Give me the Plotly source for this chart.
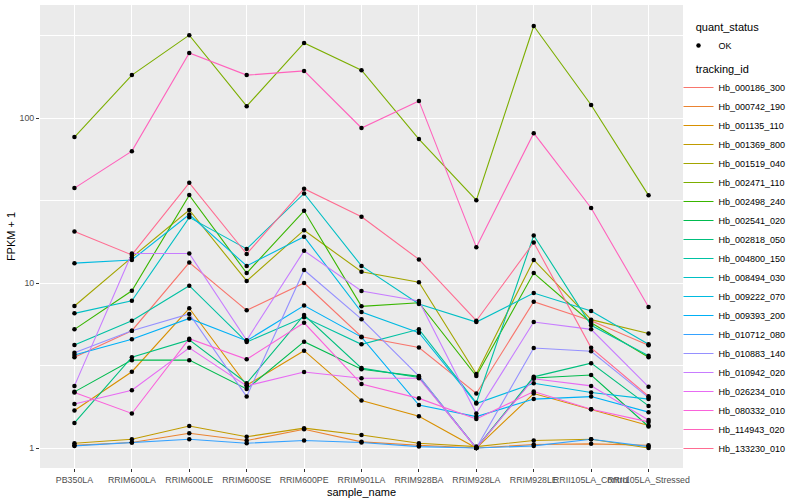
import plotly.graph_objects as go

samples = ["PB350LA", "RRIM600LA", "RRIM600LE", "RRIM600SE", "RRIM600PE", "RRIM901LA",
           "RRIM928BA", "RRIM928LA", "RRIM928LE", "RRII105LA_Control", "RRII105LA_Stressed"]

tracking_ids = ["Hb_000186_300", "Hb_000742_190", "Hb_001135_110", "Hb_001369_800", "Hb_001519_040",
                "Hb_002471_110", "Hb_002498_240", "Hb_002541_020", "Hb_002818_050", "Hb_004800_150",
                "Hb_008494_030", "Hb_009222_070", "Hb_009393_200", "Hb_010712_080", "Hb_010883_140",
                "Hb_010942_020", "Hb_026234_010", "Hb_080332_010", "Hb_114943_020", "Hb_133230_010"]

colors = ["#F8766D", "#EA8331", "#D89000", "#C09B00", "#A3A500", "#7CAE00", "#39B600", "#00BB4E",
          "#00BF7D", "#00C1A3", "#00BFC4", "#00BAE0", "#00B0F6", "#35A2FF", "#9590FF", "#C77CFF",
          "#E76BF3", "#FA62DB", "#FF62BC", "#FF6C91"]

# FPKM + 1 values per tracking_id (one per sample)
Hb_000186_300 = [3.55, 5.14, 13.3, 6.83, 10.0, 4.73, 4.07, 2.14, 7.7, 5.9, 4.2]
Hb_000742_190 = [1.04, 1.08, 1.23, 1.11, 1.30, 1.09, 1.04, 1.0, 1.05, 1.06, 1.04]
Hb_001135_110 = [1.69, 2.9, 7.03, 2.4, 3.89, 1.94, 1.56, 1.0, 2.14, 1.72, 1.37]
Hb_001369_800 = [1.07, 1.13, 1.36, 1.17, 1.32, 1.2, 1.07, 1.02, 1.11, 1.13, 1.0]
Hb_001519_040 = [7.26, 14.3, 27.7, 10.3, 20.9, 11.7, 10.1, 2.81, 13.8, 6.0, 4.95]
Hb_002471_110 = [76.7, 182, 318, 118, 285, 195, 74.6, 31.8, 361, 120, 34]
Hb_002498_240 = [5.24, 8.98, 34.1, 11.5, 27.4, 7.22, 7.6, 2.73, 11.5, 5.75, 3.55]
Hb_002541_020 = [2.19, 3.41, 3.41, 2.28, 4.41, 3.0, 2.72, 1.0, 2.66, 2.77, 1.35]
Hb_002818_050 = [1.42, 3.55, 4.52, 2.47, 6.4, 3.05, 2.68, 1.0, 2.7, 3.27, 1.8]
Hb_004800_150 = [4.21, 5.91, 9.63, 4.39, 6.2, 4.25, 5.24, 1.88, 19.4, 5.55, 3.62]
Hb_008494_030 = [6.55, 7.81, 25.0, 16.1, 34.9, 12.7, 7.46, 5.8, 8.7, 6.76, 4.25]
Hb_009222_070 = [13.2, 13.8, 26.0, 12.7, 19.1, 6.67, 5.0, 1.86, 2.47, 2.17, 1.98]
Hb_009393_200 = [3.66, 4.56, 6.1, 4.47, 7.3, 4.7, 1.82, 1.55, 1.98, 2.05, 1.65]
Hb_010712_080 = [1.03, 1.08, 1.13, 1.07, 1.11, 1.08, 1.02, 1.0, 1.03, 1.13, 1.02]
Hb_010883_140 = [3.78, 5.14, 6.49, 2.05, 12.0, 6.04, 2.73, 1.0, 4.04, 3.86, 2.02]
Hb_010942_020 = [2.38, 15.1, 15.1, 4.5, 15.7, 8.94, 7.78, 1.62, 5.8, 5.24, 2.35]
Hb_026234_010 = [1.85, 2.24, 4.05, 2.38, 2.89, 2.65, 2.65, 1.0, 2.63, 2.38, 1.48]
Hb_080332_010 = [2.17, 1.62, 4.6, 3.45, 5.74, 2.44, 2.0, 1.5, 2.2, 1.72, 1.44]
Hb_114943_020 = [37.6, 63, 248, 182, 193, 87, 127, 16.5, 81, 28.5, 7.15]
Hb_133230_010 = [20.5, 14.8, 40.5, 15.0, 37.3, 25.2, 13.9, 5.91, 17.6, 4.05, 2.06]

series = [Hb_000186_300, Hb_000742_190, Hb_001135_110, Hb_001369_800, Hb_001519_040,
          Hb_002471_110, Hb_002498_240, Hb_002541_020, Hb_002818_050, Hb_004800_150,
          Hb_008494_030, Hb_009222_070, Hb_009393_200, Hb_010712_080, Hb_010883_140,
          Hb_010942_020, Hb_026234_010, Hb_080332_010, Hb_114943_020, Hb_133230_010]

FONT = "Liberation Sans, Arial, sans-serif"
PAD = "\u00a0" * 4
fig = go.Figure()

for i, (tid, vals) in enumerate(zip(tracking_ids, series)):
    fig.add_trace(go.Scatter(
        x=samples, y=vals, mode="lines", name=tid,
        line=dict(color=colors[i], width=1.1),
        legendgroup="tid",
        legendgrouptitle=dict(text=PAD + "tracking_id", font=dict(size=11, color="black")),
        legendrank=100 + i, hoverinfo="skip"))

all_x, all_y = [], []
for vals in series:
    all_x += samples
    all_y += vals
fig.add_trace(go.Scatter(
    x=all_x, y=all_y, mode="markers", name="OK",
    marker=dict(color="black", size=4.5),
    legendgroup="qs",
    legendgrouptitle=dict(text=PAD + "quant_status", font=dict(size=11, color="black")),
    legendrank=1))

fig.update_layout(
    width=800, height=500,
    margin=dict(l=40, r=117, t=5, b=32),
    paper_bgcolor="white", plot_bgcolor="#EBEBEB",
    font=dict(family=FONT, size=9, color="#4D4D4D"),
    showlegend=True,
    legend=dict(x=0.993, xanchor="left", y=0.985, yanchor="top",
                font=dict(size=9, color="black"), tracegroupgap=4,
                itemwidth=30, bgcolor="rgba(0,0,0,0)", traceorder="grouped"),
    xaxis=dict(type="category", categoryorder="array", categoryarray=samples,
               range=[-0.6, len(samples) - 0.4],
               showgrid=True, gridcolor="white", gridwidth=1.1, zeroline=False,
               ticks="outside", ticklen=3, tickcolor="#333333", tickwidth=1,
               tickfont=dict(size=8.8, color="#4D4D4D"), tickangle=0,
               title=dict(text="sample_name", font=dict(size=11, color="black"), standoff=4)),
    yaxis=dict(type="log", range=[-0.121, 2.685],
               tickvals=[1, 10, 100], ticktext=["1", "10", "100"],
               showgrid=True, gridcolor="white", gridwidth=1.1, zeroline=False,
               ticks="outside", ticklen=3, tickcolor="#333333", tickwidth=1,
               tickfont=dict(size=8.8, color="#4D4D4D"),
               minor=dict(tickvals=[3.1623, 31.623, 316.23], showgrid=True,
                          gridcolor="white", gridwidth=0.55, ticks=""),
               title=dict(text="FPKM + 1", font=dict(size=11, color="black"), standoff=1)),
)

fig.write_html("out.html", config={"displayModeBar": False},
               post_script="document.body.style.margin='0';document.body.style.padding='0';")
